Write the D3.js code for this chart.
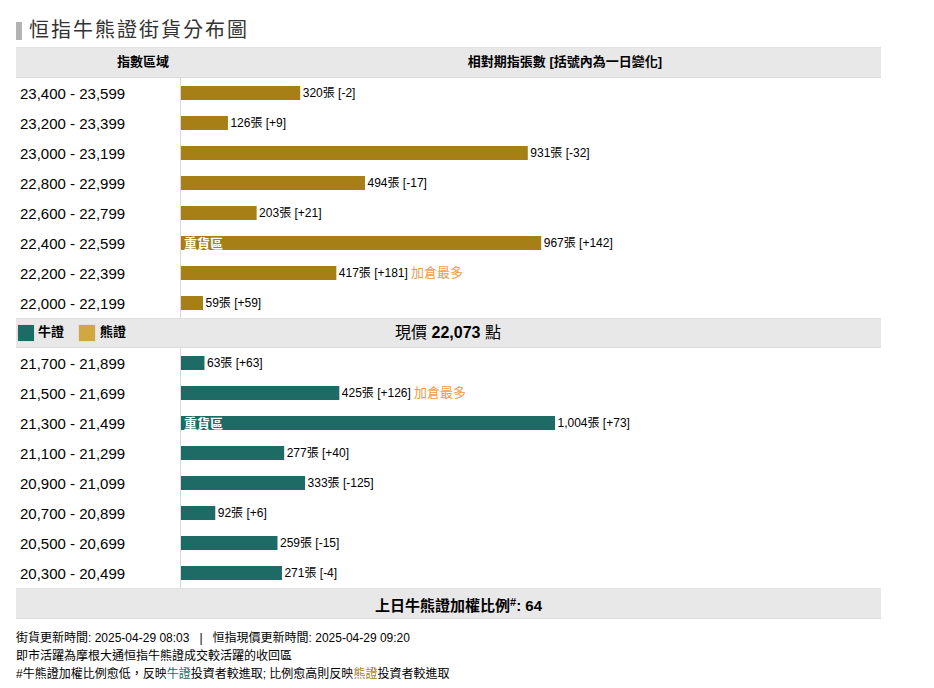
<!DOCTYPE html>
<html>
<head>
<meta charset="utf-8">
<script src="https://cdnjs.cloudflare.com/ajax/libs/d3/7.8.5/d3.min.js"></script>
<style>
  html, body { margin: 0; padding: 0; background: #fff; }
  svg { display: block; }
  text { font-family: "Liberation Sans", "Noto Sans CJK TC", sans-serif; fill: #000; }
</style>
</head>
<body>
<div id="chart"></div>
<script>
const bear_ranges = ['23,400 - 23,599', '23,200 - 23,399', '23,000 - 23,199', '22,800 - 22,999', '22,600 - 22,799', '22,400 - 22,599', '22,200 - 22,399', '22,000 - 22,199'];
const bear_counts = [320, 126, 931, 494, 203, 967, 417, 59];
const bear_changes = ['-2', '+9', '-32', '-17', '+21', '+142', '+181', '+59'];
const bull_ranges = ['21,700 - 21,899', '21,500 - 21,699', '21,300 - 21,499', '21,100 - 21,299', '20,900 - 21,099', '20,700 - 20,899', '20,500 - 20,699', '20,300 - 20,499'];
const bull_counts = [63, 425, 1004, 277, 333, 92, 259, 271];
const bull_changes = ['+63', '+126', '+73', '+40', '-125', '+6', '-15', '-4'];
const heavy_tag = '重貨區';
const most_tag = '加倉最多';
const bear_heavy = 5, bear_most = 6, bull_heavy = 2, bull_most = 1;

const chart_width = 934;
const chart_height = 688;
const left = 16;
const right = 881;
const axis_x = 180.5;
const bar_x = 181;

const BEAR_COLOR = '#a67f17';
const BULL_COLOR = '#1e6b65';
const BAND_COLOR = '#e8e8e8';

const svg = d3.select('#chart').append('svg')
  .attr('width', chart_width)
  .attr('height', chart_height);

// same px per contract in both halves
const x_scale = d3.scaleLinear().domain([0, 1004]).range([bar_x, 555]);

function band(y, h) {
  svg.append('rect').attr('x', left).attr('y', y).attr('width', right - left).attr('height', h).attr('fill', BAND_COLOR);
  svg.append('rect').attr('x', left).attr('y', y).attr('width', right - left).attr('height', 1).attr('fill', '#e0e0e0');
  svg.append('rect').attr('x', left).attr('y', y + h - 1).attr('width', right - left).attr('height', 1).attr('fill', '#dcdcdc');
}

function drawSection(ranges, counts, changes, color, top, heavy, most) {
  const rows = ranges.map((r, i) => ({ range: r, count: counts[i], change: changes[i], i: i }));
  const y_scale = d3.scaleBand().domain(ranges).range([top, top + 240]);
  const g = svg.append('g');

  g.append('line')
    .attr('x1', axis_x).attr('x2', axis_x)
    .attr('y1', top).attr('y2', top + 240)
    .attr('stroke', '#d8d8d8');

  const row = g.selectAll('g.row').data(rows).enter().append('g')
    .attr('class', 'row')
    .attr('transform', d => 'translate(0,' + y_scale(d.range) + ')');

  row.append('text')
    .attr('x', 20).attr('y', 21)
    .attr('font-size', 15)
    .text(d => d.range);

  row.append('rect')
    .attr('x', bar_x).attr('y', 8)
    .attr('width', d => x_scale(d.count) - bar_x)
    .attr('height', 14)
    .attr('fill', color);

  const label = row.append('text')
    .attr('x', d => x_scale(d.count) + 2.5).attr('y', 18.5)
    .attr('font-size', 12)
    .text(d => d3.format(',')(d.count) + '張 [' + d.change + ']');

  // the "most added" tag sits right after the value label
  label.filter(d => d.i === most).append('tspan')
    .attr('dx', 3).attr('font-size', 13).style('fill', '#f09a3e')
    .text(most_tag);

  row.filter(d => d.i === heavy).append('text')
    .attr('x', bar_x + 3).attr('y', 20)
    .attr('font-size', 13).attr('font-weight', 'bold')
    .style('fill', '#fff')
    .text(heavy_tag);
}

// title
svg.append('rect').attr('x', 16).attr('y', 22).attr('width', 6).attr('height', 18).attr('fill', '#b3b3b3');
svg.append('text').attr('x', 29).attr('y', 37).attr('font-size', 20).attr('letter-spacing', 2).style('fill', '#333').text('恒指牛熊證街貨分布圖');

// header band
band(47, 31);
svg.append('text').attr('x', 143).attr('y', 66).attr('text-anchor', 'middle').attr('font-size', 13).attr('font-weight', 'bold').text('指數區域');
svg.append('text').attr('x', 565).attr('y', 66).attr('text-anchor', 'middle').attr('font-size', 13).attr('font-weight', 'bold').text('相對期指張數 [括號內為一日變化]');

drawSection(bear_ranges, bear_counts, bear_changes, BEAR_COLOR, 78, bear_heavy, bear_most);

// middle band with legend and spot price
band(318, 30);
svg.append('rect').attr('x', 17.5).attr('y', 324.5).attr('width', 17).attr('height', 17).attr('fill', BULL_COLOR).attr('stroke', '#e0e0e0');
svg.append('text').attr('x', 38).attr('y', 336).attr('font-size', 13).attr('font-weight', 'bold').text('牛證');
svg.append('rect').attr('x', 78.5).attr('y', 324.5).attr('width', 17).attr('height', 17).attr('fill', '#cfa93f').attr('stroke', '#e0e0e0');
svg.append('text').attr('x', 100).attr('y', 336).attr('font-size', 13).attr('font-weight', 'bold').text('熊證');
const spot = svg.append('text').attr('x', 448).attr('y', 338).attr('text-anchor', 'middle').attr('font-size', 16);
spot.append('tspan').text('現價 ');
spot.append('tspan').attr('font-weight', 'bold').text('22,073');
spot.append('tspan').text(' 點');

drawSection(bull_ranges, bull_counts, bull_changes, BULL_COLOR, 348, bull_heavy, bull_most);

// bottom band
band(588, 31);
const ratio = svg.append('text').attr('x', 458.5).attr('y', 611).attr('text-anchor', 'middle').attr('font-size', 15).attr('font-weight', 'bold');
ratio.append('tspan').text('上日牛熊證加權比例');
ratio.append('tspan').attr('font-size', 11).attr('dy', -5).text('#');
ratio.append('tspan').attr('dy', 5).text(': 64');

// notes
svg.append('text').attr('x', 16).attr('y', 642).attr('font-size', 12).text('街貨更新時間: 2025-04-29 08:03 \u00a0 | \u00a0 恒指現價更新時間: 2025-04-29 09:20');
svg.append('text').attr('x', 16).attr('y', 660).attr('font-size', 12).text('即市活躍為摩根大通恒指牛熊證成交較活躍的收回區');
const note = svg.append('text').attr('x', 16).attr('y', 678).attr('font-size', 12);
note.append('tspan').text('#牛熊證加權比例愈低，反映');
note.append('tspan').style('fill', BULL_COLOR).text('牛證');
note.append('tspan').text('投資者較進取; 比例愈高則反映');
note.append('tspan').style('fill', BEAR_COLOR).text('熊證');
note.append('tspan').text('投資者較進取');
</script>
</body>
</html>
